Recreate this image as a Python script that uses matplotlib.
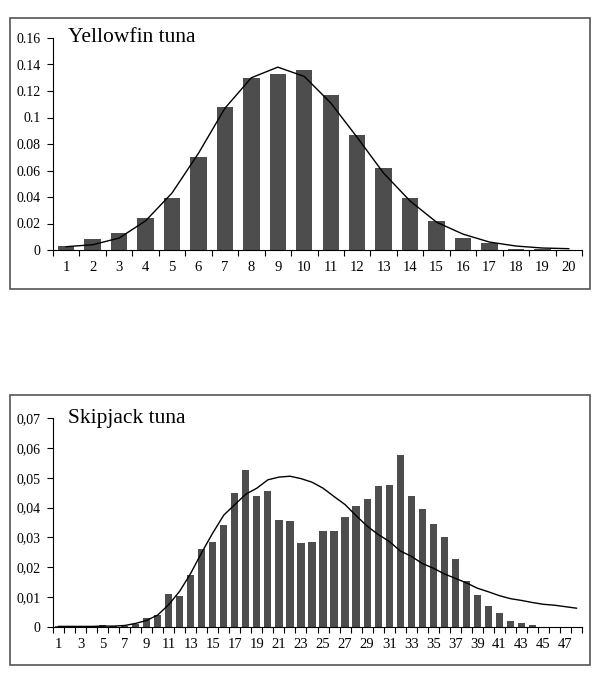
import numpy as np
import matplotlib.pyplot as plt
from matplotlib.patches import Rectangle

plt.rcParams['font.family'] = ['Liberation Serif', 'DejaVu Serif']

# Yellowfin tuna
yf_classes = list(range(1, 21))
yf_bars = [0.003, 0.008, 0.013, 0.024, 0.039, 0.070, 0.108, 0.130, 0.133, 0.136,
           0.117, 0.087, 0.062, 0.039, 0.022, 0.009, 0.005, 0.001, 0.0005, 0.0003]
yf_line = [0.0025, 0.004, 0.009, 0.022, 0.043, 0.073, 0.107, 0.130, 0.138, 0.131,
           0.111, 0.085, 0.058, 0.037, 0.021, 0.012, 0.006, 0.003, 0.0015, 0.001]
yf_yticks = [0, 0.02, 0.04, 0.06, 0.08, 0.1, 0.12, 0.14, 0.16]
yf_ylabels = ['0', '0.02', '0.04', '0.06', '0.08', '0.1', '0.12', '0.14', '0.16']

# Skipjack tuna
sj_classes = list(range(1, 49))
sj_bars = [0.0003, 0.0003, 0.0003, 0.0005, 0.0006, 0.0005, 0.0004, 0.001, 0.003, 0.004,
           0.011, 0.0103, 0.0175, 0.026, 0.0285, 0.034, 0.045, 0.0525, 0.044, 0.0457,
           0.036, 0.0355, 0.028, 0.0285, 0.0323, 0.0323, 0.0367, 0.0404, 0.043, 0.0472,
           0.0475, 0.0577, 0.0438, 0.0395, 0.0345, 0.030, 0.0227, 0.0153, 0.0106, 0.0069,
           0.0048, 0.002, 0.0013, 0.0006, 0, 0, 0, 0]
sj_line = [0.0002, 0.0002, 0.0002, 0.0002, 0.0003, 0.0003, 0.0005, 0.0012, 0.0022, 0.004,
           0.0075, 0.012, 0.018, 0.025, 0.0315, 0.0375, 0.041, 0.0445, 0.0465, 0.0493,
           0.0502, 0.0505, 0.0497, 0.0485, 0.0465, 0.0437, 0.041, 0.0373, 0.0338, 0.031,
           0.0287, 0.0255, 0.0237, 0.0213, 0.0197, 0.0178, 0.0163, 0.0148, 0.013, 0.0118,
           0.0105, 0.0095, 0.0089, 0.0082, 0.0076, 0.0073, 0.0068, 0.0063]
sj_yticks = [0, 0.01, 0.02, 0.03, 0.04, 0.05, 0.06, 0.07]
sj_ylabels = ['0', '0,01', '0,02', '0,03', '0,04', '0,05', '0,06', '0,07']

W, H = 600, 686
fig = plt.figure(figsize=(6, 6.86), dpi=100)
bar_col = '#4d4d4d'


def panel(box, ax_rect, classes, bars, line, yticks, ylabels, title, label_step, width):
    x0, y0, x1, y1 = box
    fig.patches.append(Rectangle((x0 / W, 1 - y1 / H), (x1 - x0) / W, (y1 - y0) / H,
                                 transform=fig.transFigure, fill=False,
                                 edgecolor='#555555', linewidth=1.2))
    l, b, r, t = ax_rect
    ax = fig.add_axes([l / W, 1 - b / H, (r - l) / W, (b - t) / H])
    x = np.arange(len(classes))
    ax.bar(x, bars, width=width, color=bar_col, zorder=2)
    ax.plot(x, line, color='black', linewidth=1.0, zorder=3)
    ax.set_xlim(-0.5, len(classes) - 0.5)
    ax.set_ylim(0, yticks[-1])
    ax.set_yticks(yticks)
    ax.set_yticklabels(ylabels)
    ax.set_xticks(np.arange(len(classes) + 1) - 0.5)
    ax.set_xticklabels([])
    ax.set_xticks(x[::label_step], minor=True)
    ax.set_xticklabels([str(c) for c in classes[::label_step]], minor=True)
    ax.tick_params(axis='x', which='minor', length=0, pad=8, labelsize=10.5)
    ax.tick_params(axis='x', which='major', direction='out', length=4, width=0.8)
    ax.tick_params(axis='y', direction='out', length=4, width=0.8, labelsize=10, pad=5)
    for s in ['top', 'right']:
        ax.spines[s].set_visible(False)
    for s in ['left', 'bottom']:
        ax.spines[s].set_linewidth(0.8)
    ax.set_facecolor('none')
    ax.text(0.028, 1.0, title, transform=ax.transAxes, fontsize=15.5, va='center', ha='left')
    return ax


panel((10, 18, 590, 289), (53, 250, 582, 38), yf_classes, yf_bars, yf_line,
      yf_yticks, yf_ylabels, 'Yellowfin tuna', 1, 0.62)
panel((10, 395, 590, 665), (53, 627, 582, 418), sj_classes, sj_bars, sj_line,
      sj_yticks, sj_ylabels, 'Skipjack tuna', 2, 0.65)

fig.savefig('out.png', dpi=100)
